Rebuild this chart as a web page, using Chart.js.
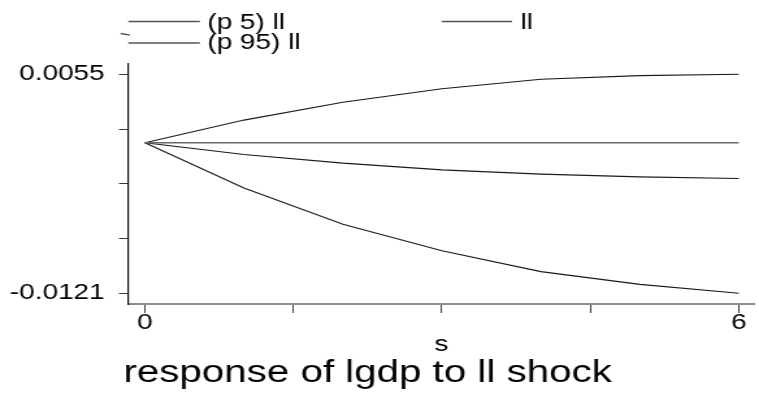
<!DOCTYPE html>
<html><head><meta charset="utf-8">
<script src="https://cdn.jsdelivr.net/npm/chart.js@4.4.1/dist/chart.umd.min.js"></script>
<style>
html,body{margin:0;padding:0;background:#fff;overflow:hidden;width:759px;height:394px;}
#wrap{position:absolute;left:0;top:0;width:584px;height:394px;transform:scaleX(1.2997);transform-origin:0 0;}
canvas{display:block;}
</style></head><body>
<div id="wrap"><canvas id="c" width="584" height="394"></canvas></div>
<script>
// ---- data ----
const steps = [0, 1, 2, 3, 4, 5, 6];
const p5 = [0, -0.00363, -0.00655, -0.00868, -0.01036, -0.01138, -0.0121];
const p95 = [0, 0.00182, 0.00325, 0.00434, 0.0051, 0.00539, 0.0055];
const ll = [0, -0.00094, -0.00164, -0.00218, -0.00252, -0.00274, -0.00287];
const zeroLine = [0, 0, 0, 0, 0, 0, 0];
const legendLabels = ['(p 5) ll', '(p 95) ll', 'll'];
const xTickValues = [0, 1.5, 3, 4.5, 6];
const xTickLabels = ['0', '', '', '', '6'];
const yTickValues = [-0.0121, -0.0077, -0.0033, 0.0011, 0.0055];
const yTickLabels = ['-0.0121', '', '', '', '0.0055'];
const xAxisTitle = 's';
const chartTitle = 'response of lgdp to ll shock';

const FONT = '"Liberation Sans", Arial, Helvetica, sans-serif';
const pts = arr => steps.map((s, i) => ({x: s, y: arr[i]}));

const extras = {
  id: 'extras',
  afterDraw(chart) {
    const ctx = chart.ctx;
    ctx.save();
    // legend keys
    ctx.strokeStyle = '#555';
    ctx.lineWidth = 1.3;
    const keys = [
      {x1: 98.7, x2: 153.8, y: 21.5, tx: 159.5, ty: 28.5, label: legendLabels[0]},
      {x1: 98.7, x2: 153.8, y: 43, tx: 159.5, ty: 49, label: legendLabels[1]},
      {x1: 339.8, x2: 394, y: 21.5, tx: 400.5, ty: 28.5, label: legendLabels[2]}
    ];
    ctx.fillStyle = '#000';
    ctx.font = '21.5px ' + FONT;
    ctx.textAlign = 'left';
    ctx.textBaseline = 'alphabetic';
    keys.forEach(k => {
      ctx.beginPath();
      ctx.moveTo(k.x1, k.y); ctx.lineTo(k.x2, k.y); ctx.stroke();
      ctx.fillText(k.label, k.tx, k.ty);
    });
    // small stray stroke seen in the reference legend
    ctx.beginPath();
    ctx.moveTo(92.8, 33.5); ctx.lineTo(100, 35.2); ctx.stroke();
    // title
    ctx.font = '31px ' + FONT;
    ctx.fillText(chartTitle, 95, 381.5);
    ctx.restore();
  }
};

const lineDs = (label, arr, color, width) => ({
  label, data: pts(arr), borderColor: color, borderWidth: width,
  pointRadius: 0, fill: false, tension: 0
});

new Chart(document.getElementById('c'), {
  type: 'line',
  data: {
    datasets: [
      lineDs('zero', zeroLine, '#6a6a6a', 1.6),
      lineDs(legendLabels[0], p5, '#1a1a1a', 1.1),
      lineDs(legendLabels[1], p95, '#1a1a1a', 1.1),
      lineDs(legendLabels[2], ll, '#1a1a1a', 1.1)
    ]
  },
  options: {
    responsive: false,
    animation: false,
    devicePixelRatio: 1,
    layout: {padding: {top: 64, left: 0, right: 3.2, bottom: 38.5}},
    plugins: {legend: {display: false}, title: {display: false}, tooltip: {enabled: false}},
    scales: {
      x: {
        type: 'linear', position: 'bottom',
        min: -0.171, max: 6.162,
        afterBuildTicks: s => { s.ticks = xTickValues.map(v => ({value: v})); },
        afterFit: s => { s.height = 51.5; },
        ticks: {
          autoSkip: false, maxRotation: 0, padding: -1, color: '#000',
          font: {family: FONT, size: 21.5, lineHeight: 1},
          callback: (v, i) => xTickLabels[i]
        },
        grid: {drawOnChartArea: false, drawTicks: true, tickLength: 9, tickColor: '#222', tickWidth: 0.9},
        border: {display: true, color: '#8c8c8c', width: 2},
        title: {display: true, text: xAxisTitle, color: '#000',
          font: {family: FONT, size: 21.5, lineHeight: 1}, padding: {top: 0, bottom: 0}}
      },
      y: {
        type: 'linear', position: 'left',
        min: -0.01296, max: 0.006328,
        afterBuildTicks: s => { s.ticks = yTickValues.map(v => ({value: v})); },
        afterFit: s => { s.width = 98.5; },
        ticks: {
          autoSkip: false, padding: 11, color: '#000',
          font: {family: FONT, size: 21.5, lineHeight: 1},
          callback: (v, i) => yTickLabels[i]
        },
        grid: {drawOnChartArea: false, drawTicks: true, tickLength: 7, tickColor: '#333', tickWidth: 1},
        border: {display: true, color: '#111', width: 1.2}
      }
    }
  },
  plugins: [extras]
});
</script>
</body></html>
